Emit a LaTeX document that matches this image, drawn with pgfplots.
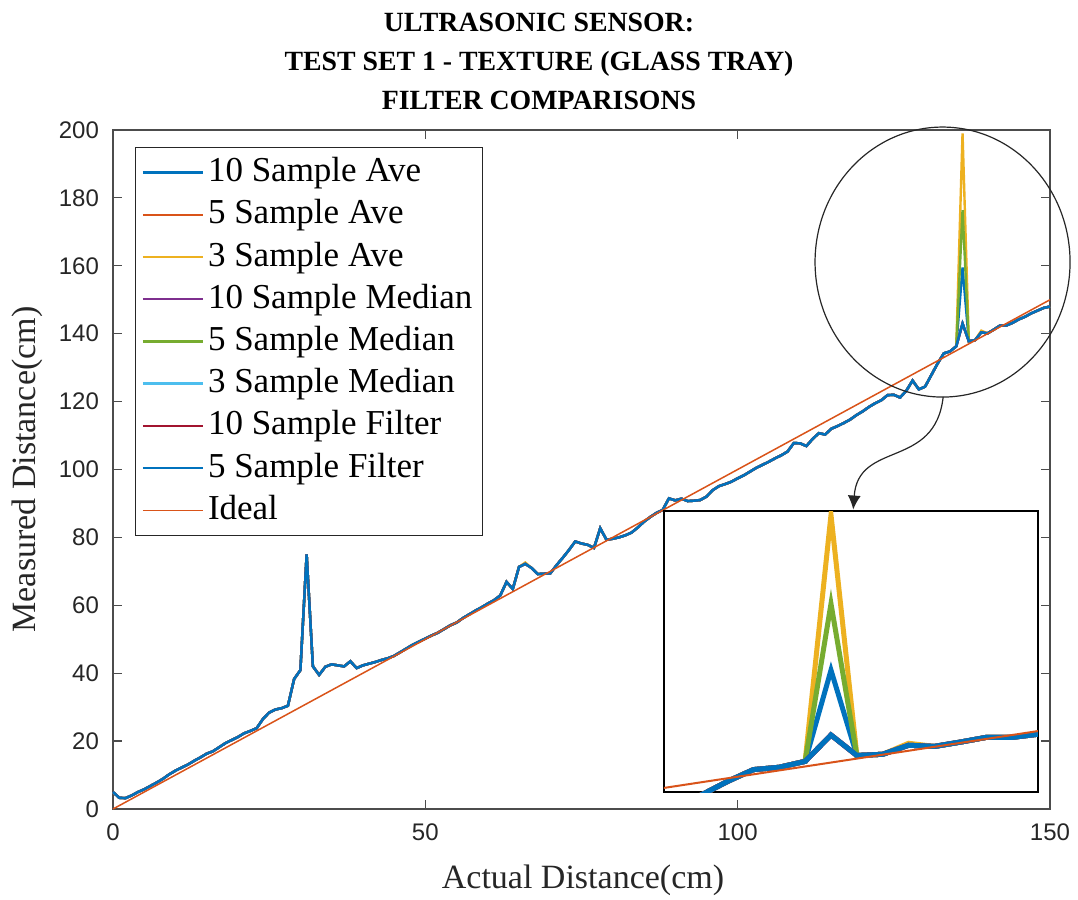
\documentclass[border=0pt]{standalone}
\usepackage{fontspec}
\setmainfont{Liberation Serif}
\newfontfamily\ticksans{Liberation Sans}
\usepackage{pgfplots}
\usepackage{pgfplotstable}
\pgfplotsset{compat=1.18}
\usetikzlibrary{arrows.meta}
\definecolor{mblue}{HTML}{0072BD}
\definecolor{morange}{HTML}{D95319}
\definecolor{myellow}{HTML}{EDB120}
\definecolor{mpurple}{HTML}{7E2F8E}
\definecolor{mgreen}{HTML}{77AC30}
\definecolor{mcyan}{HTML}{4DBEEE}
\definecolor{mred}{HTML}{A2142F}
\definecolor{axgray}{HTML}{262626}

\pgfplotstableread{
x base s10 s3 s5m
0 5.0 5.0 5.0 5.0
1 3.3 3.3 3.3 3.3
2 3.2 3.2 3.2 3.2
3 4.0 4.0 4.0 4.0
4 5.0 5.0 5.0 5.0
5 5.8 5.8 5.8 5.8
6 6.8 6.8 6.8 6.8
7 7.8 7.8 7.8 7.8
8 8.9 8.9 8.9 8.9
9 10.2 10.2 10.2 10.2
10 11.3 11.3 11.3 11.3
11 12.2 12.2 12.2 12.2
12 13.1 13.1 13.1 13.1
13 14.2 14.2 14.2 14.2
14 15.2 15.2 15.2 15.2
15 16.3 16.3 16.3 16.3
16 17.0 17.0 17.0 17.0
17 18.2 18.2 18.2 18.2
18 19.4 19.4 19.4 19.4
19 20.3 20.3 20.3 20.3
20 21.2 21.2 21.2 21.2
21 22.3 22.3 22.3 22.3
22 23.0 23.0 23.0 23.0
23 23.8 23.8 23.8 23.8
24 26.5 26.5 26.5 26.5
25 28.4 28.4 28.4 28.4
26 29.3 29.3 29.3 29.3
27 29.7 29.7 29.7 29.7
28 30.4 30.4 30.4 30.4
29 38.3 38.3 38.3 38.3
30 40.9 40.9 40.9 40.9
31 75.0 75.0 75.0 75.0
32 42.0 42.0 42.0 42.0
33 39.5 39.5 39.5 39.5
34 41.9 41.9 41.9 41.9
35 42.6 42.6 42.6 42.6
36 42.3 42.3 42.3 42.3
37 42.0 42.0 42.0 42.0
38 43.5 43.5 43.5 43.5
39 41.5 41.5 41.5 41.5
40 42.3 42.3 42.3 42.3
41 42.8 42.8 42.8 42.8
42 43.3 43.3 43.3 43.3
43 43.9 43.9 43.9 43.9
44 44.4 44.4 44.4 44.4
45 45.1 45.1 45.1 45.1
46 46.2 46.2 46.2 46.2
47 47.3 47.3 47.3 47.3
48 48.4 48.4 48.4 48.4
49 49.3 49.3 49.3 49.3
50 50.2 50.2 50.2 50.2
51 51.1 51.1 51.1 51.1
52 51.9 51.9 51.9 51.9
53 53.0 53.0 53.0 53.0
54 54.1 54.1 54.1 54.1
55 54.9 54.9 54.9 54.9
56 56.2 56.2 56.2 56.2
57 57.3 57.3 57.3 57.3
58 58.4 58.4 58.4 58.4
59 59.4 59.4 59.4 59.4
60 60.5 60.5 60.5 60.5
61 61.5 61.5 61.5 61.5
62 62.9 62.9 62.9 62.9
63 66.9 66.9 66.9 66.9
64 64.8 64.8 64.8 64.8
65 71.3 71.3 71.3 71.3
66 72.2 72.2 72.6 72.2
67 71.0 71.0 71.0 71.0
68 69.2 69.2 69.2 69.2
69 69.3 69.3 69.3 69.3
70 69.4 69.4 69.4 69.4
71 71.8 71.8 71.8 71.8
72 74.0 74.0 74.0 74.0
73 76.3 76.3 76.3 76.3
74 78.8 78.8 78.8 78.8
75 78.2 78.2 78.2 78.2
76 77.8 77.8 77.8 77.8
77 76.9 76.9 76.9 76.9
78 82.7 82.7 82.7 82.7
79 79.3 79.3 79.3 79.3
80 79.6 79.6 79.6 79.6
81 80.0 80.0 80.0 80.0
82 80.6 80.6 80.6 80.6
83 81.4 81.4 81.4 81.4
84 82.9 82.9 82.9 82.9
85 84.6 84.6 84.6 84.6
86 86.0 86.0 86.0 86.0
87 87.2 87.2 87.2 87.2
88 88.1 88.1 88.1 88.1
89 91.5 91.5 91.5 91.5
90 90.9 90.9 90.9 90.9
91 91.4 91.4 91.4 91.4
92 90.7 90.7 90.7 90.7
93 90.8 90.8 90.8 90.8
94 91.0 91.0 91.0 91.0
95 92.0 92.0 92.0 92.0
96 93.9 93.9 93.9 93.9
97 95.1 95.1 95.1 95.1
98 95.7 95.7 95.7 95.7
99 96.4 96.4 96.4 96.4
100 97.4 97.4 97.4 97.4
101 98.3 98.3 98.3 98.3
102 99.4 99.4 99.4 99.4
103 100.5 100.5 100.5 100.5
104 101.4 101.4 101.4 101.4
105 102.3 102.3 102.3 102.3
106 103.3 103.3 103.3 103.3
107 104.2 104.2 104.2 104.2
108 105.3 105.3 105.3 105.3
109 107.8 107.8 107.8 107.8
110 107.7 107.7 107.7 107.7
111 106.9 106.9 106.9 106.9
112 109.0 109.0 109.0 109.0
113 110.7 110.7 110.7 110.7
114 110.3 110.3 110.3 110.3
115 112.0 112.0 112.0 112.0
116 112.8 112.8 112.8 112.8
117 113.7 113.7 113.7 113.7
118 114.7 114.7 114.7 114.7
119 116.0 116.0 116.0 116.0
120 117.1 117.1 117.1 117.1
121 118.4 118.4 118.4 118.4
122 119.5 119.5 119.5 119.5
123 120.4 120.4 120.4 120.4
124 121.9 121.9 121.9 121.9
125 122.0 122.0 122.0 122.0
126 121.2 121.2 121.2 121.2
127 123.2 123.2 123.2 123.2
128 126.2 126.2 126.2 126.2
129 123.6 123.6 123.6 123.6
130 124.4 124.4 124.4 124.4
131 127.8 127.8 127.8 127.8
132 131.2 131.2 131.2 131.2
133 134.2 134.2 134.2 134.2
134 134.8 134.8 134.8 134.8
135 136.3 136.3 136.3 136.3
136 143.0 159.5 199.0 176.4
137 137.8 137.8 137.8 137.8
138 138.1 138.1 138.1 138.1
139 140.4 140.4 140.9 140.4
140 140.1 140.1 140.1 140.1
141 141.2 141.2 141.2 141.2
142 142.4 142.4 142.4 142.4
143 142.4 142.4 142.4 142.4
144 143.2 143.2 143.2 143.2
145 144.2 144.2 144.2 144.2
146 145.0 145.0 145.0 145.0
147 146.0 146.0 146.0 146.0
148 146.8 146.8 146.8 146.8
149 147.6 147.6 147.6 147.6
150 148.0 148.0 148.0 148.0
}\data

\begin{document}
\begin{tikzpicture}
\begin{axis}[
  name=main,
  scale only axis, width=468.5pt, height=339.5pt,
  xmin=0, xmax=150, ymin=0, ymax=200,
  xtick={0,50,100,150}, ytick={0,20,...,200},
  tick align=inside, tick pos=both,
  major tick length=4.5pt,
  axis line style={draw=black!70, line width=0.6pt},
  every tick/.style={draw=black!70, line width=0.6pt},
  /pgf/number format/assume math mode=true,
  tick label style={font=\ticksans\fontsize{12}{14}\selectfont, text=axgray},
  yticklabel style={xshift=-3.5pt},
  xticklabel style={yshift=-4pt},
  xlabel={Actual Distance(cm)},
  ylabel={Measured Distance(cm)},
  label style={font=\fontsize{17}{20}\selectfont, text=axgray},
  xlabel style={at={(axis description cs:0.5016,-0.1046)}, anchor=center},
  ylabel style={at={(axis description cs:-0.0918,0.5)}, anchor=center, rotate=0},
  clip=false,
  legend cell align=left,
  legend style={at={(0.0235,0.975)}, anchor=north west, draw=axgray, line width=0.6pt,
    fill=white, inner xsep=3pt, inner ysep=2pt,
    font=\fontsize{17.5}{21}\selectfont,
    nodes={inner xsep=2pt, inner ysep=1pt, text height=14.1pt, text depth=5pt},
    /tikz/every even column/.append style={column sep=0pt}},
  legend image code/.code={\draw[#1] (0pt,0pt) -- (30pt,0pt);},
]
\addplot[mblue, line width=1.2pt] table[x=x, y=s10] {\data};
\addlegendentry{10 Sample Ave}
\addplot[morange, line width=1.2pt] table[x=x, y=base] {\data};
\addlegendentry{5 Sample Ave}
\addplot[myellow, line width=1.2pt] table[x=x, y=s3] {\data};
\addlegendentry{3 Sample Ave}
\addplot[mpurple, line width=1.2pt] table[x=x, y=base] {\data};
\addlegendentry{10 Sample Median}
\addplot[mgreen, line width=1.2pt] table[x=x, y=s5m] {\data};
\addlegendentry{5 Sample Median}
\addplot[mcyan, line width=1.2pt] table[x=x, y=base] {\data};
\addlegendentry{3 Sample Median}
\addplot[mred, line width=1.2pt] table[x=x, y=base] {\data};
\addlegendentry{10 Sample Filter}
\addplot[mblue, line width=1.2pt] table[x=x, y=base] {\data};
\addlegendentry{5 Sample Filter}
\addplot[morange, line width=0.75pt] coordinates {(0,0) (150,150)};
\addlegendentry{Ideal}
\draw[black!85, line width=0.6pt] (axis cs:132.8,161.1) ellipse [x radius=63.75pt, y radius=67.5pt];
\draw[black!85, line width=0.6pt, -{Latex[length=7pt,width=6.5pt]}] (axis cs:132.9,121.4) .. controls (axis cs:131.6,99.9) and (axis cs:119.3,108.7) .. (axis cs:118.5,88.2);
\coordinate (insSW) at (axis cs:88.2,5.0);
\node[font=\fontsize{13.9}{19.5}\selectfont\bfseries, align=center, text=black] at (rel axis cs:0.4546,1.1016) {ULTRASONIC SENSOR:\\TEST SET 1 - TEXTURE (GLASS TRAY)\\FILTER COMPARISONS};
\end{axis}
\begin{axis}[
  at={(insSW)}, anchor=south west,
  scale only axis, width=186.9pt, height=140.5pt,
  xmin=129.54, xmax=144.0, ymin=128.5, ymax=200,
  xtick=\empty, ytick=\empty,
  axis line style={draw=black, line width=0.75pt},
  axis background/.style={fill=white},
]
\addplot[mblue, line width=2.5pt] table[x=x, y=s10] {\data};
\addplot[morange, line width=2.5pt] table[x=x, y=base] {\data};
\addplot[myellow, line width=2.5pt] table[x=x, y=s3] {\data};
\addplot[mpurple, line width=2.5pt] table[x=x, y=base] {\data};
\addplot[mgreen, line width=2.5pt] table[x=x, y=s5m] {\data};
\addplot[mcyan, line width=2.5pt] table[x=x, y=base] {\data};
\addplot[mred, line width=2.5pt] table[x=x, y=base] {\data};
\addplot[mblue, line width=2.5pt] table[x=x, y=base] {\data};
\addplot[morange, line width=1pt] coordinates {(0,0) (150,150)};
\end{axis}
\pgfresetboundingbox
\path (main.south west) ++(-56.5pt,-45.5pt) rectangle ++(539pt,450pt);
\end{tikzpicture}
\end{document}
